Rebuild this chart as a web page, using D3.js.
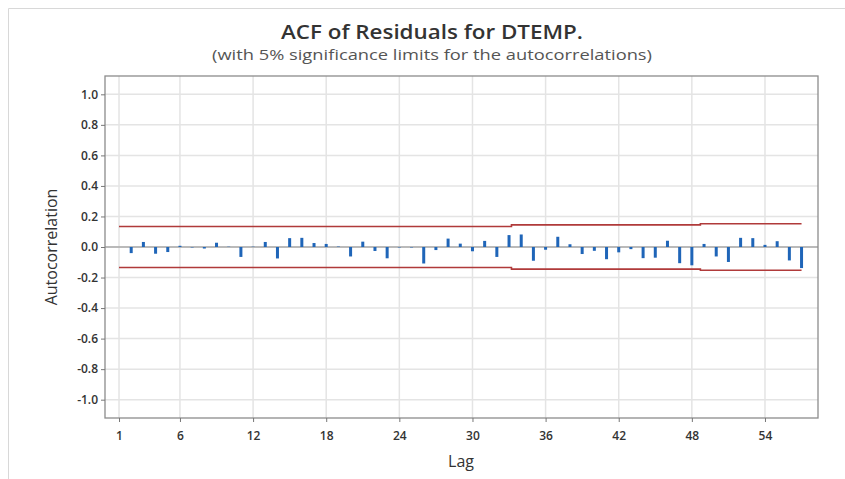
<!DOCTYPE html>
<html>
<head>
<meta charset="utf-8">
<script src="https://cdn.jsdelivr.net/npm/d3@7"></script>
<style>
  body { margin: 0; background: #fff; }
  text { font-family: "Open Sans", "Noto Sans", sans-serif; }
</style>
</head>
<body>
<svg id="chart" width="845" height="479"></svg>
<script>
// ACF values per lag (1..57)
var lags = d3.range(1, 58);
var acf = [
    0.000,
    -0.040, 0.033, -0.044, -0.033, 0.008, -0.003, -0.010, 0.028, 0.002, -0.065,
    0.002, 0.033, -0.075, 0.058, 0.060, 0.026, 0.020, 0.003, -0.062, 0.035,
    -0.026, -0.074, -0.003, -0.003, -0.108, -0.020, 0.055, 0.022, -0.028, 0.040,
    -0.065, 0.078, 0.082, -0.090, -0.018, 0.067, 0.018, -0.046, -0.025, -0.080,
    -0.035, -0.014, -0.073, -0.070, 0.041, -0.106, -0.120, 0.020, -0.062, -0.098,
    0.060, 0.058, 0.014, 0.038, -0.088, -0.138
];

// significance limits drawn as steps
var limitFrom = [1, 33.2, 48.7];
var limitTo = [33.2, 48.7, 57];
var limitValue = [0.134, 0.145, 0.152];

var xTicks = [1, 6, 12, 18, 24, 30, 36, 42, 48, 54];
var yTicks = [1.0, 0.8, 0.6, 0.4, 0.2, 0.0, -0.2, -0.4, -0.6, -0.8, -1.0];

var svg = d3.select("#chart");
var plotLeft = 105, plotRight = 818, plotTop = 76, plotBottom = 418;

var x = d3.scaleLinear().domain([-0.15, 58.35]).range([plotLeft, plotRight]);
var y = d3.scaleLinear().domain([-1.12, 1.12]).range([plotBottom, plotTop]);

//outer panel border
svg.append("path")
    .attr("d", "M8.5,479 V8.5 H845")
    .attr("fill", "none")
    .attr("stroke", "#d8d8d8");

//titles, stretched a bit to the width of the original lettering
svg.append("text")
    .attr("x", 432).attr("y", 39)
    .attr("text-anchor", "middle")
    .attr("textLength", 302)
    .attr("lengthAdjust", "spacingAndGlyphs")
    .style("font-size", "20px")
    .style("font-weight", "600")
    .style("fill", "#333")
    .text("ACF of Residuals for DTEMP.");
svg.append("text")
    .attr("x", 432).attr("y", 60)
    .attr("text-anchor", "middle")
    .attr("textLength", 440)
    .attr("lengthAdjust", "spacingAndGlyphs")
    .style("font-size", "14.5px")
    .style("fill", "#555")
    .text("(with 5% significance limits for the autocorrelations)");

// grid
var grid = svg.append("g");
grid.selectAll(".vg").data(xTicks).enter().append("line")
    .attr("x1", function (d) { return x(d); })
    .attr("x2", function (d) { return x(d); })
    .attr("y1", plotTop).attr("y2", plotBottom)
    .attr("stroke", "#e4e4e4").attr("stroke-width", 1.5);
grid.selectAll(".hg").data(yTicks).enter().append("line")
    .attr("x1", plotLeft).attr("x2", plotRight)
    .attr("y1", function (d) { return y(d); })
    .attr("y2", function (d) { return y(d); })
    .attr("stroke", "#e4e4e4").attr("stroke-width", 1.5);

// zero line
svg.append("line")
    .attr("x1", plotLeft).attr("x2", plotRight)
    .attr("y1", y(0)).attr("y2", y(0))
    .attr("stroke", "#8a8a8a").attr("stroke-width", 1.2);

// significance limits
[1, -1].forEach(function (sign) {
    var pts = [];
    for (var i = 0; i < limitValue.length; i++) {
        pts.push([limitFrom[i], sign * limitValue[i]]);
        pts.push([limitTo[i], sign * limitValue[i]]);
    }
    svg.append("path")
        .attr("d", d3.line()
            .x(function (d) { return x(d[0]); })
            .y(function (d) { return y(d[1]); })(pts))
        .attr("fill", "none")
        .attr("stroke", "#b03a3a")
        .attr("stroke-width", 1.6);
});

// bars
svg.selectAll(".bar").data(lags).enter().append("rect")
    .attr("class", "bar")
    .attr("x", function (d) { return x(d) - 1.5; })
    .attr("width", 3)
    .attr("y", function (d, i) { return y(Math.max(0, acf[i])); })
    .attr("height", function (d, i) { return Math.abs(y(acf[i]) - y(0)); })
    .attr("fill", "#1f65b8");

// frame
svg.append("rect")
    .attr("x", plotLeft).attr("y", plotTop)
    .attr("width", plotRight - plotLeft).attr("height", plotBottom - plotTop)
    .attr("fill", "none").attr("stroke", "#8c8c8c").attr("stroke-width", 1.3);

// axes
var fmt = d3.format(".1f");
var yAxis = svg.append("g")
    .attr("transform", "translate(" + plotLeft + ",0)")
    .call(d3.axisLeft(y).tickValues(yTicks).tickSize(4)
        .tickFormat(function (d) { return fmt(d).replace("\u2212", "-"); }));
var xAxis = svg.append("g")
    .attr("transform", "translate(0," + plotBottom + ")")
    .call(d3.axisBottom(x).tickValues(xTicks).tickSize(4));
[yAxis, xAxis].forEach(function (a) {
    a.select(".domain").remove();
    a.selectAll("line").attr("stroke", "#777");
    a.selectAll("text").style("font-size", "12px")
        .style("font-weight", "600").style("fill", "#333");
});
xAxis.selectAll("text").attr("dy", "1.25em");

svg.append("text")
    .attr("transform", "translate(57," + y(0) + ") rotate(-90)")
    .attr("text-anchor", "middle")
    .style("font-size", "16px")
    .style("fill", "#333")
    .text("Autocorrelation");
svg.append("text")
    .attr("x", 461).attr("y", 467)
    .attr("text-anchor", "middle")
    .style("font-size", "16px")
    .style("fill", "#333")
    .text("Lag");
</script>
</body>
</html>
